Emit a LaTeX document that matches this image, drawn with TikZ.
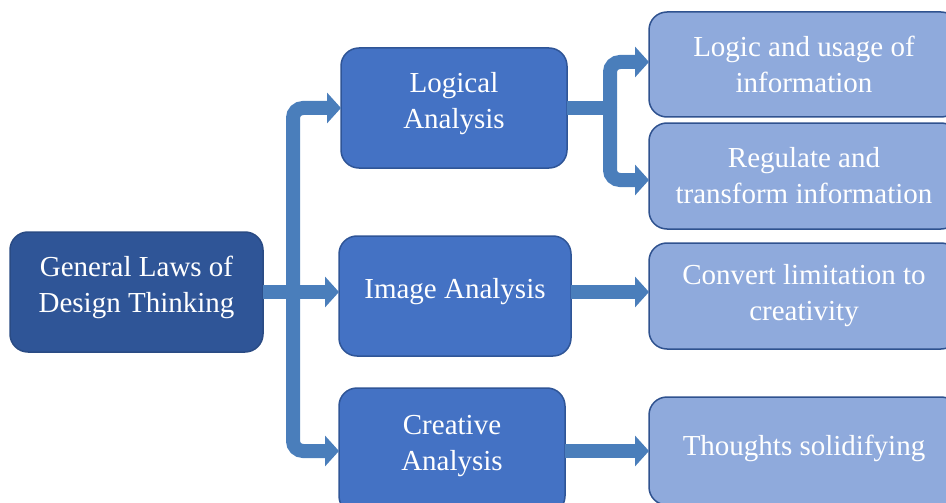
\documentclass[tikz,border=0pt]{standalone}
\usepackage{fontspec}
\setmainfont{Liberation Serif}
\usetikzlibrary{arrows.meta,calc}
\definecolor{rootc}{HTML}{2F5597}
\definecolor{rootb}{HTML}{2A4B84}
\definecolor{midc}{HTML}{4472C4}
\definecolor{midb}{HTML}{2F5597}
\definecolor{leafc}{HTML}{8FAADC}
\definecolor{leafb}{HTML}{2F528F}
\definecolor{connc}{HTML}{4A7EBB}
\begin{document}
\begin{tikzpicture}[x=1pt,y=-1pt,
 box/.style={rectangle,rounded corners=18pt,line width=1.5pt,inner sep=0pt,outer sep=0pt,text=white,align=center,font=\fontsize{29}{36}\selectfont},
 rootbox/.style={box,fill=rootc,draw=rootb,text depth=16pt},
 midbox/.style={box,fill=midc,draw=midb,text depth=16pt},
 leafbox/.style={box,fill=leafc,draw=leafb},
 conn/.style={draw=connc,line width=14pt,rounded corners=10pt,-{Triangle[width=30pt,length=14pt]}},
 link/.style={draw=connc,line width=14pt}]
\useasboundingbox (0,0) rectangle (946,503);
\clip (0,0) rectangle (946,503);
% nodes
\node[rootbox,minimum width=253pt,minimum height=120pt] (root) at (136.5,292) {General Laws of\\Design Thinking};
\node[midbox,minimum width=226pt,minimum height=120pt] (logical) at (454,108) {Logical\\Analysis};
\node[midbox,minimum width=232pt,minimum height=120pt] (image) at (455,296) {Image Analysis};
\node[midbox,minimum width=226pt,minimum height=126pt] (creative) at (452,451) {Creative\\Analysis};
\node[leafbox,minimum width=310pt,minimum height=105pt] (logic) at (804,64.5) {Logic and usage of\\information};
\node[leafbox,minimum width=310pt,minimum height=106pt] (reg) at (804,176) {Regulate and\\transform information};
\node[leafbox,minimum width=310pt,minimum height=106pt] (conv) at (804,296) {Convert limitation to\\creativity};
\node[leafbox,minimum width=310pt,minimum height=108pt,text depth=12pt] (thought) at (804,451) {Thoughts solidifying};
% connectors
\coordinate (tr) at (293,292);
\coordinate (lt) at (610,108);
\path[conn] (root.east) -- (root.east -| image.west);
\path[conn] (tr) |- (logical.west);
\path[conn] (tr) |- (creative.west);
\path[link] (logical.east) -- (lt);
\path[conn] (lt) |- ([yshift=2.5pt]logic.west);
\path[conn] (lt) |- ([yshift=-4pt]reg.west);
\path[conn] (image.east |- tr) -- (tr -| conv.west);
\path[conn] (creative.east) -- (thought.west);
\end{tikzpicture}
\end{document}
